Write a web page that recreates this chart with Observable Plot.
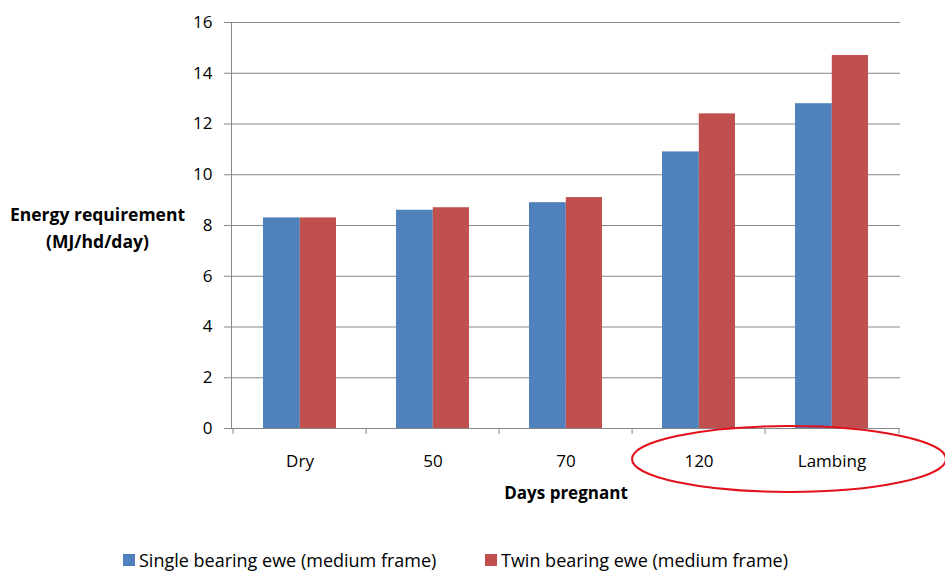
<!DOCTYPE html>
<html><head><meta charset="utf-8">
<script src="https://cdn.jsdelivr.net/npm/d3@7"></script>
<script src="https://cdn.jsdelivr.net/npm/@observablehq/plot@0.6"></script>
<style>
body{margin:0;background:#fff;font-family:"Open Sans",sans-serif;}
#wrap{position:relative;width:945px;height:571px;overflow:hidden;background:#fff}
.leg{position:absolute;top:549px;height:22px;font-size:18px;line-height:22px;color:#000;display:flex;align-items:center;white-space:nowrap}
.sw{display:inline-block;width:12px;height:12px;margin-right:4px}
</style></head><body><div id="wrap"></div>
<script>
const categories = ["Dry", "50", "70", "120", "Lambing"];
const seriesNames = ["Single bearing ewe (medium frame)", "Twin bearing ewe (medium frame)"];
const singleValues = [8.3, 8.6, 8.9, 10.9, 12.8];
const twinValues = [8.3, 8.7, 9.1, 12.4, 14.7];
const yTicks = [0, 2, 4, 6, 8, 10, 12, 14, 16];
const seriesColors = ["#4F81BD", "#C0504D"];
const xLabel = "Days pregnant";
const yLabel = ["Energy requirement", "(MJ/hd/day)"];

const W = 945, H = 520, mL = 231, mR = 45, mT = 22, mB = 92;
const padIn = 0.45, padOut = 0.225;
const step = (W - mL - mR) / categories.length;
const half = step * (1 - padIn) / 2;
const grid = "#878787";

const single = categories.map((c, i) => ({cat: c, value: singleValues[i]}));
const twin = categories.map((c, i) => ({cat: c, value: twinValues[i]}));

const plot = Plot.plot({
  width: W, height: H,
  marginLeft: mL, marginRight: mR, marginTop: mT, marginBottom: mB,
  style: {fontFamily: "Open Sans, sans-serif", fontSize: "17px", background: "#fff", color: "#000"},
  x: {domain: categories, paddingInner: padIn, paddingOuter: padOut, axis: null},
  y: {domain: [0, 16], axis: null},
  marks: [
    Plot.gridY(yTicks.filter(d => d > 0), {stroke: grid, strokeOpacity: 1}),
    Plot.barY(single, {x: "cat", y: "value", fill: seriesColors[0], insetRight: half - 0.6}),
    Plot.barY(twin, {x: "cat", y: "value", fill: seriesColors[1], insetLeft: half}),
    Plot.ruleY([0], {stroke: grid}),
    Plot.frame({anchor: "left", stroke: grid}),
    Plot.ruleX(categories, {x: d => d, dx: -step / 2, y1: 0, y2: 0, insetBottom: -6, stroke: grid}),
    Plot.ruleX(categories.slice(-1), {x: d => d, dx: step / 2, y1: 0, y2: 0, insetBottom: -6, stroke: grid}),
    Plot.axisY(yTicks, {tickSize: 7, tickPadding: 12, fontSize: 17, stroke: grid, fill: "#000", label: null}),
    Plot.axisX({tickSize: 0, tickPadding: 26, fontSize: 17, fill: "#000", label: null}),
    Plot.text([0], {y: () => 8, frameAnchor: "left", dx: -134, text: () => yLabel.join("\n"),
      fontWeight: "bold", fontSize: 17.5, lineHeight: 1.55, textAnchor: "middle", fill: "#000"}),
    Plot.text([0], {frameAnchor: "bottom", dy: 70, text: () => xLabel,
      fontWeight: "bold", fontSize: 17, fill: "#000"})
  ]
});

const wrap = document.getElementById("wrap");
wrap.appendChild(plot);
d3.select(plot).append("ellipse")
  .attr("cx", 789).attr("cy", 459).attr("rx", 157).attr("ry", 33)
  .attr("fill", "none").attr("stroke", "#E3111B").attr("stroke-width", 2);

const legendLeft = [123, 485];
seriesNames.forEach((name, i) => {
  const d = document.createElement("div");
  d.className = "leg";
  d.style.left = legendLeft[i] + "px";
  const sw = document.createElement("span");
  sw.className = "sw";
  sw.style.background = seriesColors[i];
  d.appendChild(sw);
  d.appendChild(document.createTextNode(name));
  wrap.appendChild(d);
});
</script></body></html>
